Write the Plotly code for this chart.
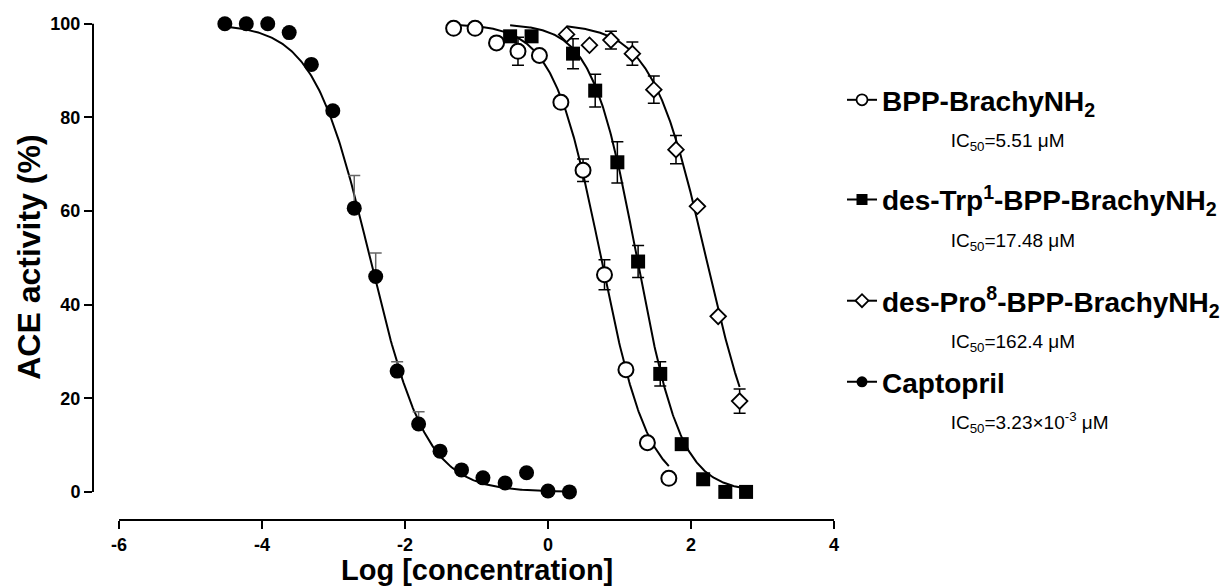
import numpy as np
import plotly.graph_objects as go

# ---------------- data ----------------
# BPP-BrachyNH2 (open circles)
bpp_x = [-1.32, -1.02, -0.72, -0.42, -0.12, 0.18, 0.49, 0.79, 1.09, 1.39, 1.69]
bpp_y = [99.0, 99.0, 95.9, 94.1, 93.2, 83.2, 68.7, 46.4, 26.1, 10.5, 2.9]
bpp_err = [0, 0, 0, 3.0, 0, 0, 2.4, 3.2, 0, 0, 0]

# des-Trp1-BPP-BrachyNH2 (filled squares)
trp_x = [-0.53, -0.23, 0.35, 0.66, 0.97, 1.26, 1.57, 1.87, 2.17, 2.48, 2.77]
trp_y = [97.3, 97.3, 93.6, 85.7, 70.4, 49.2, 25.2, 10.2, 2.7, 0.0, 0.0]
trp_err = [0, 0, 3.2, 3.5, 4.4, 3.4, 2.6, 0, 0, 0, 0]

# des-Pro8-BPP-BrachyNH2 (open diamonds)
pro_x = [0.26, 0.58, 0.88, 1.18, 1.48, 1.79, 2.09, 2.38, 2.68]
pro_y = [97.7, 95.4, 96.5, 93.6, 85.9, 73.1, 61.0, 37.5, 19.4]
pro_err = [0, 0, 1.9, 2.5, 2.9, 3.0, 0, 0, 2.6]

# Captopril (filled circles)
cap_x = [-4.52, -4.22, -3.92, -3.62, -3.31, -3.01, -2.71, -2.41, -2.11,
         -1.81, -1.51, -1.21, -0.91, -0.60, -0.30, 0.00, 0.30]
cap_y = [100.0, 100.0, 100.0, 98.1, 91.3, 81.4, 60.6, 46.0, 25.8,
         14.5, 8.7, 4.7, 3.0, 1.9, 4.1, 0.2, 0.0]
cap_err = [0, 0, 0, 0, 0, 0, 7.0, 5.0, 2.0, 2.6, 0, 0, 0, 0, 0, 0, 0]

# fitted curve parameters (IC50 in uM from legend, Hill slopes estimated)
ic50_values = [5.51, 17.48, 162.4, 3.23e-3]
hill_slopes = [1.3, 1.4, 1.15, 1.1]

series_names = ["BPP-BrachyNH<sub>2</sub>",
                "des-Trp<sup>1</sup>-BPP-BrachyNH<sub>2</sub>",
                "des-Pro<sup>8</sup>-BPP-BrachyNH<sub>2</sub>",
                "Captopril"]
ic50_labels = ["IC<sub>50</sub>=5.51 μM",
               "IC<sub>50</sub>=17.48 μM",
               "IC<sub>50</sub>=162.4 μM",
               "IC<sub>50</sub>=3.23×10<sup>-3</sup> μM"]

x_tickvals = [-6, -4, -2, 0, 2, 4]
x_ticktext = ["-6", "-4", "-2", "0", "2", "4"]
y_tickvals = [0, 20, 40, 60, 80, 100]
y_ticktext = ["0", "20", "40", "60", "80", "100"]

FONT = "Liberation Sans, Arial, sans-serif"

series = [
    (bpp_x, bpp_y, bpp_err, dict(symbol="circle-open", size=15, line=dict(width=2)), False, "black"),
    (trp_x, trp_y, trp_err, dict(symbol="square", size=14), False, "black"),
    (pro_x, pro_y, pro_err, dict(symbol="diamond-open", size=12, line=dict(width=1.8)), False, "black"),
    (cap_x, cap_y, cap_err, dict(symbol="circle", size=15), True, "#666666"),
]


def marker_style(mk, size=None):
    m = dict(mk)
    if size is not None:
        m["size"] = size
    if "open" in m["symbol"]:
        m["symbol"] = m["symbol"].replace("-open", "")
        m["color"] = "white"
        m["line"] = dict(color="black", width=mk["line"]["width"])
    else:
        m["color"] = "black"
    return m


fig = go.Figure()

# fitted curves
for (xs, ys, err, mk, up, ecol), ic50, h in zip(series, ic50_values, hill_slopes):
    logic = np.log10(ic50)
    xc = np.linspace(min(xs), max(xs), 300)
    yc = 100.0 / (1.0 + 10 ** ((xc - logic) * h))
    fig.add_trace(go.Scatter(x=xc, y=yc, mode="lines", line=dict(color="black", width=2),
                             showlegend=False, hoverinfo="skip", cliponaxis=False))

# points with error bars
for (xs, ys, err, mk, up, ecol) in series:
    ey = dict(type="data", array=err, color=ecol, thickness=1.5, width=6, visible=True)
    if up:
        ey["symmetric"] = False
        ey["arrayminus"] = [0] * len(err)
    fig.add_trace(go.Scatter(x=xs, y=ys, mode="markers", marker=marker_style(mk), error_y=ey,
                             showlegend=False, cliponaxis=False))

# legend entries: one legend box per entry so each can be placed on its own
legend_ids = ["legend", "legend2", "legend3", "legend4"]
legend_y = [0.888, 0.689, 0.487, 0.325]
pad = "\u00a0" * 13
for (xs, ys, err, mk, up, ecol), nm, lab, lid in zip(series, series_names, ic50_labels, legend_ids):
    mk_leg = dict(mk)
    if "line" in mk_leg:
        mk_leg["line"] = dict(width=1.8)
    fig.add_trace(go.Scatter(
        x=[None], y=[None], mode="lines+markers",
        line=dict(color="black", width=2),
        marker=marker_style(mk_leg, size=11 if mk["symbol"] != "diamond-open" else 10),
        name=f"<b>{nm}</b><br><span style='font-size:19px;font-weight:normal'>{pad}{lab}</span>",
        legend=lid, showlegend=True))

legend_common = dict(x=1.0108, xanchor="left", yanchor="top",
                     font=dict(size=28, family=FONT, color="black"),
                     valign="top", bgcolor="rgba(0,0,0,0)", itemclick=False,
                     itemdoubleclick=False)

# axis lines (offset GraphPad style)
fig.add_shape(type="line", xref="x", yref="paper", x0=-6, x1=4, y0=0, y1=0,
              line=dict(color="black", width=2))
fig.add_shape(type="line", xref="paper", yref="y", x0=0, x1=0, y0=0, y1=100,
              line=dict(color="black", width=2))

fig.add_annotation(text="<b>Log [concentration]</b>", xref="x", yref="paper",
                   x=-1, y=0, yshift=-50, showarrow=False, yanchor="middle",
                   font=dict(size=29, family=FONT, color="black"))
fig.add_annotation(text="<b>ACE activity (%)</b>", xref="paper", yref="y",
                   x=0, y=50, xshift=-64, textangle=-90, showarrow=False,
                   xanchor="center", yanchor="middle",
                   font=dict(size=32, family=FONT, color="black"))

layout_legends = {lid: dict(legend_common, y=yy) for lid, yy in zip(legend_ids, legend_y)}

fig.update_layout(
    width=1220, height=580,
    margin=dict(l=85, r=394, t=11, b=68, autoexpand=False),
    plot_bgcolor="white", paper_bgcolor="white",
    font=dict(family=FONT, color="black"),
    showlegend=True,
    xaxis=dict(range=[-6.364, 4.0], showgrid=False, zeroline=False, showline=False,
               tickmode="array", tickvals=x_tickvals, ticktext=x_ticktext,
               ticks="outside", ticklen=8, tickwidth=2, tickcolor="black",
               tickfont=dict(size=18, family=FONT, color="black", weight="bold")),
    yaxis=dict(range=[-6, 101], showgrid=False, zeroline=False, showline=False,
               tickmode="array", tickvals=y_tickvals, ticktext=y_ticktext,
               ticks="outside", ticklen=8, tickwidth=2, tickcolor="black",
               tickfont=dict(size=18, family=FONT, color="black", weight="bold")),
    **layout_legends,
)

fig.write_html("out.html")
